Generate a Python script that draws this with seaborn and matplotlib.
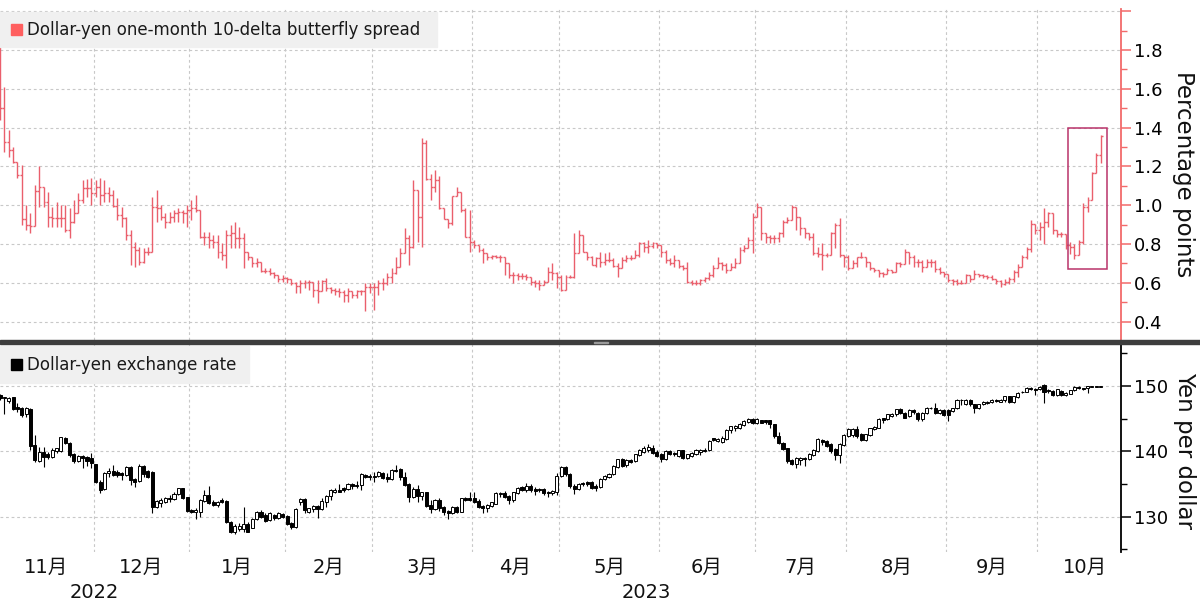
import numpy as np
import pandas as pd
import matplotlib
matplotlib.use("Agg")
import matplotlib.pyplot as plt
import matplotlib.transforms as mtransforms
from matplotlib.patches import Rectangle
import seaborn as sns

# trading days on the chart (weekdays, 1 Nov 2022 - 20 Oct 2023)
dates = pd.bdate_range("2022-11-01", "2023-10-20")

# Dollar-yen one-month 10-delta butterfly spread (percentage points), daily bars
bf_high = [
    1.82, 1.61, 1.387, 1.30, 1.215, 1.206, 1.00, 0.958, 1.104, 1.203, 1.095, 1.069, 0.992, 1.018, 1.001, 1.001, 0.983, 1.026, 1.061, 1.129, 1.133, 1.138,  # Nov
    1.129, 1.138, 1.129, 1.095, 1.078, 1.035, 0.992, 0.941, 0.872, 0.812, 0.786, 0.778, 0.786, 1.043, 1.078, 1.001, 0.958, 0.966, 0.975, 0.983, 0.975, 1.001,  # Dec
    1.026, 1.052, 0.975, 0.863, 0.863, 0.846, 0.846, 0.803, 0.872, 0.898, 0.915, 0.889, 0.855, 0.76, 0.735, 0.726, 0.683, 0.675, 0.675, 0.658, 0.640, 0.640,  # Jan
    0.632, 0.615, 0.606, 0.615, 0.615, 0.615, 0.597, 0.615, 0.615, 0.623, 0.580, 0.572, 0.572, 0.563, 0.572, 0.555, 0.563, 0.563, 0.601, 0.597,  # Feb
    0.597, 0.615, 0.623, 0.649, 0.675, 0.735, 0.778, 0.881, 0.846, 1.129, 0.949, 1.344, 1.335, 1.163, 1.181, 1.15, 0.983, 0.927, 1.047, 1.095, 1.069, 0.983, 0.975,  # Mar
    0.821, 0.795, 0.778, 0.743, 0.743, 0.743, 0.743, 0.718, 0.649, 0.658, 0.649, 0.649, 0.646, 0.623, 0.615, 0.615, 0.615, 0.683, 0.700, 0.658,  # Apr
    0.64, 0.64, 0.64, 0.855, 0.872, 0.812, 0.76, 0.738, 0.735, 0.76, 0.752, 0.76, 0.726, 0.70, 0.735, 0.743, 0.743, 0.769, 0.812, 0.812, 0.821, 0.812, 0.807,  # May
    0.795, 0.769, 0.726, 0.743, 0.70, 0.692, 0.709, 0.615, 0.615, 0.618, 0.632, 0.658, 0.692, 0.735, 0.709, 0.70, 0.70, 0.726, 0.786, 0.795, 0.838, 0.958,  # Jun
    1.009, 0.983, 0.855, 0.846, 0.846, 0.863, 0.923, 0.941, 1.001, 0.949, 0.889, 0.872, 0.846, 0.855, 0.786, 0.803, 0.752, 0.863, 0.906, 0.932, 0.743,  # Jul
    0.743, 0.718, 0.735, 0.76, 0.726, 0.70, 0.675, 0.666, 0.658, 0.675, 0.666, 0.709, 0.709, 0.776, 0.75, 0.741, 0.724, 0.716, 0.724, 0.724, 0.716, 0.681, 0.655,  # Aug
    0.629, 0.621, 0.621, 0.612, 0.647, 0.638, 0.664, 0.647, 0.643, 0.638, 0.638, 0.621, 0.612, 0.621, 0.629, 0.664, 0.698, 0.741, 0.784, 0.922, 0.905,  # Sep
    0.914, 0.983, 0.966, 0.940, 0.871, 0.862, 0.853, 0.810, 0.802, 0.819, 1.009, 1.043, 1.172, 1.267, 1.362,  # Oct
]
bf_low = [
    1.44, 1.275, 1.249, 1.215, 1.138, 0.90, 0.872, 0.855, 0.898, 0.989, 0.989, 0.889, 0.886, 0.889, 0.889, 0.863, 0.829, 0.906, 0.958, 1.009, 1.043, 1.001,
    1.043, 1.001, 1.018, 1.018, 0.992, 0.923, 0.889, 0.821, 0.692, 0.683, 0.692, 0.70, 0.743, 0.76, 0.915, 0.923, 0.881, 0.906, 0.915, 0.915, 0.906, 0.889,
    0.923, 0.966, 0.829, 0.795, 0.778, 0.778, 0.726, 0.718, 0.675, 0.778, 0.778, 0.778, 0.675, 0.718, 0.683, 0.683, 0.658, 0.649, 0.640, 0.623, 0.606, 0.606,
    0.598, 0.589, 0.546, 0.546, 0.572, 0.563, 0.529, 0.495, 0.589, 0.555, 0.546, 0.538, 0.529, 0.503, 0.503, 0.520, 0.520, 0.538, 0.452, 0.546,
    0.460, 0.538, 0.563, 0.589, 0.597, 0.646, 0.683, 0.812, 0.692, 0.778, 0.812, 0.786, 1.129, 1.026, 1.069, 0.978, 0.927, 0.881, 0.898, 1.047, 0.966, 0.838, 0.760,
    0.778, 0.760, 0.700, 0.718, 0.721, 0.726, 0.709, 0.640, 0.623, 0.597, 0.615, 0.618, 0.615, 0.589, 0.580, 0.563, 0.597, 0.640, 0.615, 0.572,
    0.555, 0.572, 0.623, 0.623, 0.803, 0.76, 0.718, 0.692, 0.683, 0.683, 0.692, 0.709, 0.683, 0.632, 0.683, 0.709, 0.718, 0.726, 0.735, 0.76, 0.752, 0.778, 0.778,
    0.735, 0.70, 0.692, 0.683, 0.675, 0.666, 0.597, 0.589, 0.589, 0.589, 0.606, 0.615, 0.632, 0.675, 0.666, 0.649, 0.666, 0.675, 0.709, 0.76, 0.795, 0.752,
    0.941, 0.82, 0.803, 0.803, 0.803, 0.812, 0.838, 0.906, 0.941, 0.872, 0.846, 0.829, 0.821, 0.743, 0.735, 0.666, 0.735, 0.743, 0.778, 0.735, 0.683,
    0.666, 0.675, 0.683, 0.726, 0.683, 0.666, 0.658, 0.632, 0.632, 0.649, 0.649, 0.683, 0.683, 0.724, 0.698, 0.681, 0.681, 0.655, 0.681, 0.681, 0.655, 0.647, 0.629,
    0.603, 0.586, 0.586, 0.595, 0.607, 0.603, 0.621, 0.629, 0.626, 0.621, 0.612, 0.595, 0.578, 0.586, 0.595, 0.603, 0.629, 0.681, 0.724, 0.759, 0.853,
    0.819, 0.802, 0.888, 0.853, 0.836, 0.836, 0.776, 0.750, 0.724, 0.784, 0.802, 0.966, 1.026, 1.164, 1.216,
]
bf_close = [
    1.50, 1.327, 1.284, 1.224, 1.155, 0.93, 0.898, 0.893, 1.074, 1.095, 1.018, 0.941, 0.932, 0.932, 0.932, 0.872, 0.915, 0.958, 1.026, 1.086, 1.086, 1.061,
    1.095, 1.052, 1.061, 1.052, 0.995, 0.949, 0.932, 0.846, 0.786, 0.769, 0.709, 0.76, 0.76, 0.989, 0.983, 0.941, 0.915, 0.941, 0.958, 0.966, 0.961, 0.975,
    0.983, 0.975, 0.838, 0.838, 0.821, 0.812, 0.76, 0.743, 0.846, 0.855, 0.829, 0.829, 0.76, 0.735, 0.704, 0.709, 0.663, 0.663, 0.652, 0.640, 0.618, 0.623,
    0.618, 0.601, 0.584, 0.597, 0.606, 0.606, 0.563, 0.560, 0.611, 0.572, 0.563, 0.555, 0.550, 0.538, 0.560, 0.538, 0.555, 0.555, 0.580, 0.580,
    0.580, 0.597, 0.597, 0.632, 0.649, 0.683, 0.755, 0.829, 0.786, 1.078, 0.941, 1.321, 1.133, 1.095, 1.129, 0.983, 0.927, 0.906, 1.047, 1.069, 0.975, 0.838, 0.812,
    0.795, 0.769, 0.752, 0.731, 0.738, 0.735, 0.731, 0.704, 0.640, 0.640, 0.635, 0.635, 0.628, 0.606, 0.597, 0.589, 0.606, 0.658, 0.649, 0.632,
    0.563, 0.632, 0.632, 0.755, 0.846, 0.76, 0.735, 0.692, 0.726, 0.709, 0.718, 0.718, 0.687, 0.675, 0.718, 0.726, 0.726, 0.743, 0.803, 0.786, 0.790, 0.803, 0.795,
    0.76, 0.718, 0.70, 0.718, 0.687, 0.675, 0.606, 0.597, 0.601, 0.615, 0.623, 0.640, 0.675, 0.70, 0.692, 0.666, 0.683, 0.70, 0.769, 0.778, 0.821, 0.941,
    0.992, 0.855, 0.838, 0.829, 0.829, 0.855, 0.915, 0.923, 0.992, 0.941, 0.881, 0.855, 0.834, 0.755, 0.748, 0.743, 0.743, 0.855, 0.898, 0.743, 0.735,
    0.675, 0.70, 0.731, 0.735, 0.709, 0.675, 0.666, 0.649, 0.646, 0.666, 0.658, 0.70, 0.697, 0.759, 0.733, 0.707, 0.707, 0.681, 0.707, 0.707, 0.672, 0.655, 0.647,
    0.612, 0.609, 0.600, 0.598, 0.638, 0.621, 0.643, 0.638, 0.633, 0.629, 0.621, 0.609, 0.595, 0.603, 0.621, 0.655, 0.681, 0.733, 0.776, 0.905, 0.871,
    0.888, 0.914, 0.957, 0.871, 0.853, 0.853, 0.793, 0.784, 0.741, 0.810, 0.991, 1.026, 1.164, 1.259, 1.357,
]

# Dollar-yen exchange rate (yen per dollar), daily candles
usd_open = [
    148.62, 148.11, 147.70, 148.27, 146.84, 146.68, 145.66, 146.48, 140.97, 138.52, 139.95, 139.54, 139.18, 140.10, 140.10, 142.09, 141.22, 139.54, 138.52, 139.34, 139.18, 138.93,
    138.06, 135.36, 134.23, 136.63, 136.99, 136.79, 136.73, 136.38, 137.65, 135.71, 135.46, 137.81, 136.99, 136.89, 131.53, 132.04, 132.19, 132.91, 132.70, 133.42, 134.34, 132.96,
    131.02, 130.66, 130.77, 132.40, 133.32, 132.30, 131.79, 132.55, 132.40, 129.23, 127.60, 128.11, 128.11, 128.83, 128.32, 129.64, 130.77, 130.26, 129.49, 130.26, 129.74, 130.36,
    130.15, 128.98, 128.47, 132.19, 132.70, 130.77, 131.17, 131.68, 131.17, 132.30, 133.21, 133.83, 134.03, 134.34, 134.23, 134.95, 134.85, 134.85, 136.38, 136.28,
    136.28, 136.22, 136.63, 136.12, 135.77, 137.19, 137.24, 136.12, 134.95, 133.06, 134.18, 133.21, 133.72, 131.79, 131.17, 132.55, 131.48, 130.87, 130.51, 131.48, 130.77, 132.81, 132.81,
    132.81, 132.40, 131.58, 131.27, 131.68, 131.99, 133.42, 133.57, 133.21, 132.55, 133.57, 134.54, 134.03, 134.69, 134.23, 134.23, 134.23, 133.83, 133.57, 133.83,
    136.22, 137.60, 136.58, 134.69, 134.18, 135.20, 135.26, 135.31, 134.69, 134.54, 135.71, 136.07, 136.48, 137.60, 138.78, 137.91, 138.62, 138.52, 139.44, 139.95, 140.15, 140.56, 139.95,
    139.54, 138.78, 140.05, 139.74, 139.29, 140.15, 138.93, 139.29, 139.54, 139.95, 140.26, 140.15, 141.99, 141.58, 141.48, 141.84, 143.21, 143.52, 143.52, 144.03, 144.49, 145.00,
    144.39, 144.74, 144.74, 144.74, 144.13, 142.35, 141.33, 140.46, 138.62, 138.01, 138.62, 139.03, 138.78, 139.44, 140.05, 141.79, 141.58, 141.07, 140.31, 139.44, 140.97,
    142.35, 142.50, 143.37, 142.60, 141.68, 142.50, 143.37, 143.62, 145.05, 144.90, 145.46, 145.66, 146.43, 145.92, 145.41, 146.33, 145.92, 144.90, 145.92, 146.68, 146.68, 145.92, 146.28,
    146.28, 146.17, 146.58, 147.81, 147.30, 147.91, 147.19, 146.68, 147.30, 147.45, 147.50, 147.91, 147.60, 147.81, 148.42, 147.60, 148.32, 149.03, 149.13, 149.74, 149.49,
    149.54, 150.10, 149.34, 149.23, 148.62, 149.23, 148.62, 148.83, 149.34, 149.90, 149.64, 149.64, 149.90, 149.90, 149.90,
]
usd_high = [
    148.72, 148.37, 148.37, 148.37, 147.35, 146.84, 146.84, 146.58, 142.50, 140.71, 140.71, 139.95, 140.46, 140.56, 142.24, 142.24, 141.37, 139.69, 139.44, 139.44, 139.34, 139.69,
    138.06, 135.61, 136.79, 137.40, 137.91, 137.14, 136.79, 137.81, 137.76, 135.87, 138.01, 137.91, 137.14, 136.99, 132.55, 132.81, 133.06, 133.32, 133.72, 134.44, 134.44, 133.06,
    131.17, 131.38, 132.70, 134.08, 134.69, 132.55, 132.40, 132.81, 132.55, 129.34, 128.83, 128.98, 131.53, 129.13, 129.85, 130.87, 130.97, 130.51, 130.66, 130.36, 130.66, 130.51,
    130.26, 129.23, 131.27, 132.81, 132.81, 131.38, 131.79, 131.79, 132.81, 133.32, 134.23, 134.34, 134.95, 134.54, 135.10, 135.10, 135.46, 136.63, 136.48, 136.48,
    136.89, 136.99, 136.79, 136.63, 137.30, 137.91, 137.40, 136.79, 135.10, 134.59, 134.85, 133.83, 133.83, 132.55, 132.65, 132.81, 131.68, 131.02, 131.68, 131.68, 132.91, 133.01, 133.72,
    133.72, 132.70, 131.79, 131.89, 132.30, 133.72, 133.83, 133.93, 133.32, 133.83, 134.59, 134.74, 135.10, 134.95, 134.59, 134.44, 134.44, 133.93, 134.08, 136.63,
    137.76, 137.76, 136.73, 134.95, 135.20, 135.36, 135.46, 135.46, 134.95, 135.87, 136.38, 136.73, 137.91, 138.88, 138.93, 138.78, 138.78, 139.64, 140.31, 140.82, 141.07, 140.97, 140.15,
    139.74, 140.15, 140.26, 139.95, 140.26, 140.26, 139.64, 139.85, 140.41, 140.36, 140.46, 141.68, 142.09, 142.09, 142.35, 143.37, 143.93, 143.98, 144.39, 144.74, 145.15, 145.15,
    145.05, 144.85, 144.85, 144.85, 144.23, 143.01, 141.48, 140.56, 138.78, 139.13, 139.13, 139.13, 139.80, 140.31, 141.99, 141.89, 141.68, 141.33, 140.46, 141.33, 142.70,
    143.62, 143.52, 143.88, 142.81, 142.70, 143.62, 143.88, 145.05, 145.15, 145.77, 145.92, 146.53, 146.58, 146.07, 146.43, 146.43, 146.07, 146.07, 146.79, 146.79, 147.45, 146.48, 146.43,
    146.43, 146.68, 147.96, 147.96, 148.06, 148.01, 147.30, 147.30, 147.70, 147.70, 148.01, 148.01, 148.01, 148.52, 148.52, 148.52, 149.08, 149.23, 149.85, 149.85, 149.64,
    149.95, 150.26, 149.49, 149.34, 149.59, 149.34, 149.03, 149.44, 150.00, 150.00, 149.74, 150.05, 150.00, 150.00, 149.95,
]
usd_low = [
    147.86, 145.66, 147.35, 146.33, 146.07, 145.31, 145.31, 140.20, 138.42, 138.32, 137.65, 138.83, 138.93, 139.69, 139.95, 141.07, 139.18, 138.16, 138.32, 137.40, 137.81, 137.50,
    135.10, 133.57, 134.08, 136.12, 136.28, 136.12, 135.61, 136.28, 134.85, 134.59, 135.36, 136.12, 135.87, 130.51, 131.38, 131.53, 132.04, 132.30, 132.55, 133.32, 132.70, 130.77,
    130.51, 129.64, 130.00, 132.30, 131.89, 131.68, 131.53, 132.04, 128.98, 127.45, 127.30, 127.81, 127.70, 127.60, 128.21, 129.49, 129.74, 129.13, 129.34, 129.49, 129.64, 129.74,
    128.72, 128.11, 128.32, 131.79, 130.51, 130.51, 130.77, 129.74, 131.02, 131.53, 132.55, 133.57, 133.72, 133.83, 134.08, 134.23, 134.34, 134.08, 135.87, 135.61,
    135.36, 136.07, 135.77, 135.26, 135.61, 136.79, 135.61, 134.69, 132.19, 132.91, 132.19, 132.55, 131.53, 130.51, 131.02, 130.87, 130.26, 129.64, 130.36, 130.51, 130.66, 132.40, 132.40,
    132.04, 131.38, 130.51, 130.77, 131.53, 131.89, 133.06, 132.81, 131.89, 132.30, 133.42, 133.93, 133.83, 133.83, 133.32, 133.72, 133.32, 133.06, 133.32, 133.32,
    136.07, 136.22, 134.44, 133.52, 134.03, 134.69, 134.69, 134.18, 133.93, 134.44, 135.56, 135.87, 136.38, 137.40, 137.60, 137.60, 138.27, 138.42, 139.29, 139.80, 139.95, 139.54, 139.13,
    138.42, 138.62, 139.44, 139.29, 139.13, 138.78, 138.78, 139.13, 139.39, 139.44, 139.95, 140.05, 141.58, 141.43, 141.33, 141.68, 142.86, 143.11, 143.37, 143.88, 144.34, 144.23,
    144.23, 144.29, 144.13, 143.52, 142.09, 141.17, 140.15, 138.27, 137.91, 137.50, 137.91, 137.76, 138.62, 139.29, 139.95, 140.97, 140.66, 139.80, 138.62, 138.27, 140.82,
    142.19, 142.19, 142.09, 141.58, 141.58, 142.35, 143.21, 143.52, 144.39, 144.74, 145.26, 145.41, 145.66, 145.05, 145.26, 145.77, 144.64, 144.64, 145.77, 146.43, 145.77, 145.77, 145.41,
    144.64, 146.07, 146.48, 147.09, 147.09, 146.94, 145.92, 146.53, 147.09, 147.19, 147.40, 147.60, 147.50, 147.60, 147.45, 147.45, 148.21, 148.93, 149.03, 149.34, 148.62,
    149.44, 147.45, 148.98, 148.47, 148.47, 148.52, 148.47, 148.72, 149.23, 149.54, 149.44, 148.98, 149.85, 149.85, 149.85,
]
usd_close = [
    148.11, 148.37, 148.21, 146.48, 146.48, 145.56, 146.58, 140.82, 138.67, 139.85, 139.18, 139.18, 140.20, 140.46, 142.14, 141.22, 139.44, 138.52, 139.29, 139.03, 138.57, 138.16,
    135.26, 134.08, 136.63, 136.99, 136.38, 136.38, 136.38, 137.65, 135.61, 135.36, 137.81, 136.48, 136.12, 131.53, 132.40, 132.55, 132.91, 132.65, 133.42, 134.34, 132.91, 130.87,
    130.66, 131.07, 132.55, 133.32, 132.04, 131.79, 132.30, 132.19, 129.13, 127.70, 128.62, 128.62, 128.83, 127.70, 129.64, 130.66, 130.00, 129.34, 130.51, 129.74, 130.51, 130.00,
    128.83, 128.47, 131.17, 132.70, 131.02, 131.27, 131.68, 131.17, 132.40, 133.21, 134.03, 134.08, 133.83, 134.13, 135.00, 134.74, 134.64, 136.48, 136.12, 136.07,
    136.02, 136.79, 135.87, 135.71, 137.14, 136.99, 136.02, 134.85, 133.06, 134.23, 133.21, 133.72, 131.68, 131.17, 132.50, 131.38, 130.77, 130.51, 131.53, 130.77, 132.81, 132.60, 132.55,
    132.30, 131.53, 131.27, 131.79, 132.19, 133.62, 133.62, 133.06, 132.55, 133.72, 134.44, 134.08, 134.69, 134.08, 133.93, 134.03, 133.57, 133.57, 133.93, 136.28,
    137.60, 136.48, 134.69, 134.18, 134.95, 134.95, 135.05, 134.44, 134.44, 135.71, 136.22, 136.58, 137.76, 138.78, 137.76, 138.62, 138.42, 139.54, 140.15, 140.56, 140.66, 139.69, 139.29,
    138.78, 140.05, 139.64, 139.54, 140.15, 138.93, 139.54, 139.74, 140.26, 140.26, 140.05, 141.58, 141.68, 141.94, 142.09, 143.21, 143.83, 143.83, 144.23, 144.64, 145.00, 144.39,
    144.90, 144.39, 144.49, 144.13, 142.35, 141.33, 140.31, 138.52, 138.01, 138.93, 138.93, 138.78, 139.64, 140.15, 141.84, 141.48, 140.82, 140.05, 139.44, 141.17, 142.50,
    143.37, 143.37, 142.35, 141.68, 142.60, 143.52, 143.78, 144.90, 144.85, 145.66, 145.66, 146.43, 145.82, 145.15, 146.33, 146.07, 144.90, 145.92, 146.68, 146.58, 145.92, 146.33, 145.56,
    145.56, 146.58, 147.81, 147.91, 147.91, 147.19, 146.68, 147.19, 147.50, 147.50, 147.91, 147.70, 147.91, 148.42, 147.60, 148.42, 148.98, 149.13, 149.74, 149.49, 149.34,
    149.85, 149.13, 149.23, 148.62, 149.49, 148.62, 148.93, 149.34, 149.90, 149.64, 149.54, 149.95, 149.95, 149.95, 149.90,
]

RED = "#ea5f6c"
AXIS_RED = "#f26a6a"
BOX_RED = "#b9336a"
GRID = "#c8c8c8"

sns.set_theme(style="white")
plt.rcParams["font.family"] = ["DejaVu Sans", "Noto Sans CJK JP"]

W, H = 1200, 603
fig = plt.figure(figsize=(W / 100, H / 100), dpi=100)


def fx(px):
    return px / W


def fy(py):
    return 1 - py / H


ax1 = fig.add_axes([0, fy(340), fx(1121), (340 - 9) / H])
ax2 = fig.add_axes([0, fy(552), fx(1121), (552 - 343) / H], sharex=ax1)

x = np.arange(len(dates))

# top panel: OHLC bars, open taken as the previous close
bh, bl, bc = np.array(bf_high), np.array(bf_low), np.array(bf_close)
bo = np.r_[bc[0], bc[:-1]]
ax1.vlines(x, np.minimum(bl, bo), np.maximum(bh, bo), color=RED, lw=1.0, zorder=3)
ax1.hlines(bo, x - 0.45, x, color=RED, lw=1.0, zorder=3)
ax1.hlines(bc, x, x + 0.45, color=RED, lw=1.0, zorder=3)

# bottom panel: candles
uo, uh, ul, uc = (np.array(a) for a in (usd_open, usd_high, usd_low, usd_close))
up = uc >= uo
ax2.vlines(x, ul, uh, color="black", lw=0.8, zorder=2)
ax2.bar(x, np.maximum(np.abs(uc - uo), 0.1), bottom=np.minimum(uo, uc), width=0.7,
        color=np.where(up, "white", "black"), edgecolor="black", linewidth=0.7, zorder=3)

ax1.set_xlim(0.0, 257.7)
ax1.set_ylim(0.305, 2.011)
ax2.set_ylim(124.6, 156.58)

# month boundaries
starts = [i for i in range(1, len(dates)) if dates[i].month != dates[i - 1].month]
for ax in (ax1, ax2):
    for s in starts:
        ax.axvline(s - 0.5, color=GRID, lw=0.8, ls=(0, (2.5, 2.5)), zorder=1)

# y axes on the right
ax1.set_yticks(np.arange(0.4, 2.01, 0.2))
ax1.set_yticklabels([f"{v:.1f}" for v in np.arange(0.4, 1.81, 0.2)] + [""])
ax1.set_yticks(np.arange(0.5, 2.0, 0.2), minor=True)
ax2.set_yticks([130, 140, 150])
ax2.set_yticks([125, 135, 145, 155], minor=True)

for ax, col in ((ax1, AXIS_RED), (ax2, "black")):
    sns.despine(ax=ax, left=True, top=True, bottom=True, right=False)
    ax.spines["right"].set_color(col)
    ax.spines["right"].set_linewidth(1.3)
    ax.yaxis.tick_right()
    ax.tick_params(axis="y", which="major", direction="out", length=7, width=1.1,
                   color=col, labelsize=13, pad=2, labelcolor="black")
    ax.tick_params(axis="y", which="minor", direction="out", length=4, width=1.0, color=col)
    ax.tick_params(axis="x", bottom=False, labelbottom=False)
    ax.grid(axis="y", which="major", color=GRID, lw=0.8, ls=(0, (2.5, 2.5)))
    ax.set_axisbelow(True)
    ax.set_facecolor("white")

# highlighted last two weeks
ax1.add_patch(Rectangle((245.6, 0.67), 8.8, 0.73, fill=False, ec=BOX_RED, lw=1.1, zorder=4))

# month and year labels
tr = mtransforms.blended_transform_factory(ax2.transData, fig.transFigure)
months = pd.period_range(dates[0], dates[-1], freq="M")
for p in months:
    first = int(np.argmax(dates.to_period("M") == p))
    full = len(pd.bdate_range(p.start_time, p.end_time))
    fig.text(first - 0.5 + full / 2, fy(567), f"{p.month}月", transform=tr,
             ha="center", va="center", fontsize=14, color="#111111")
xlo, xhi = ax1.get_xlim()
for yr in (2022, 2023):
    idx = np.where(dates.year == yr)[0]
    lo, hi = max(idx[0] - 0.5, xlo), min(idx[-1] + 0.5, xhi)
    fig.text((lo + hi) / 2, fy(592), str(yr), transform=tr,
             ha="center", va="center", fontsize=14, color="#111111")

# axis titles
fig.text(fx(1183), fy(174), "Percentage points", rotation=270, ha="center", va="center",
         fontsize=16.5, color="#111111")
fig.text(fx(1185), fy(451), "Yen per dollar", rotation=270, ha="center", va="center",
         fontsize=16.5, color="#111111")

# legend boxes
fig.add_artist(Rectangle((0, fy(47)), fx(437), 35 / H, transform=fig.transFigure,
                         color="#f0f0f0", zorder=5))
fig.add_artist(Rectangle((fx(11), fy(35)), fx(11), 11 / H, transform=fig.transFigure,
                         color="#ff5f5f", zorder=6))
fig.text(fx(27), fy(30), "Dollar-yen one-month 10-delta butterfly spread", ha="left",
         va="center", fontsize=12, color="#1a1a1a", zorder=6)
fig.add_artist(Rectangle((0, fy(383)), fx(249), 37 / H, transform=fig.transFigure,
                         color="#f0f0f0", zorder=5))
fig.add_artist(Rectangle((fx(11), fy(370)), fx(11), 11 / H, transform=fig.transFigure,
                         color="black", zorder=6))
fig.text(fx(27), fy(365), "Dollar-yen exchange rate", ha="left", va="center",
         fontsize=12, color="#1a1a1a", zorder=6)

# panel separator
fig.add_artist(Rectangle((0, fy(344)), 1, 4 / H, transform=fig.transFigure,
                         color="#3d3d3d", zorder=7))
fig.add_artist(Rectangle((fx(594), fy(342.6)), fx(14), 0.8 / H, transform=fig.transFigure,
                         color="#9a9a9a", zorder=8))

fig.savefig("out.png", dpi=100)
